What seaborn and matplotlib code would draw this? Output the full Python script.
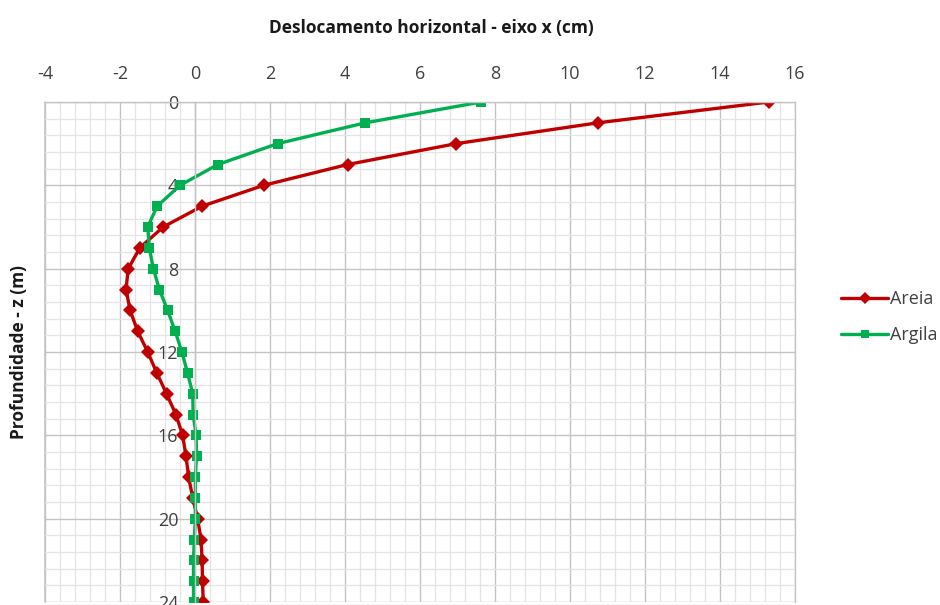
import numpy as np
import pandas as pd
import matplotlib.pyplot as plt
import seaborn as sns
from matplotlib.ticker import MultipleLocator

# depth (m), one reading per metre
profundidade = list(range(0, 25))

# horizontal displacement (cm)
areia = [15.30, 10.74, 6.96, 4.07, 1.83, 0.19, -0.85, -1.47, -1.78, -1.84,
         -1.73, -1.53, -1.26, -1.02, -0.76, -0.51, -0.33, -0.24, -0.17, -0.06,
         0.07, 0.16, 0.19, 0.20, 0.22]
argila = [7.63, 4.54, 2.20, 0.61, -0.40, -1.01, -1.26, -1.22, -1.11, -0.95,
          -0.73, -0.53, -0.35, -0.20, -0.06, -0.05, 0.03, 0.04, 0.01, 0.01,
          0.01, -0.02, -0.04, -0.04, -0.04]

series = ["Areia", "Argila"]
cores = {"Areia": "#C00000", "Argila": "#00B050"}
marcadores = {"Areia": "D", "Argila": "s"}

df = pd.concat([
    pd.DataFrame({"x": areia, "z": profundidade, "solo": "Areia"}),
    pd.DataFrame({"x": argila, "z": profundidade, "solo": "Argila"}),
])

sns.set_style("white")
plt.rcParams["font.family"] = ["Open Sans", "DejaVu Sans"]
plt.rcParams["axes.unicode_minus"] = False

fig = plt.figure(figsize=(9.4, 6.05), dpi=100)
ax = fig.add_axes([45 / 940, 3 / 605, 750 / 940, 500 / 605])

sns.lineplot(data=df, x="x", y="z", hue="solo", style="solo",
             palette=cores, markers=marcadores, dashes=False,
             sort=False, estimator=None, linewidth=2.4,
             markersize=7, markeredgewidth=0, ax=ax)

ax.set_xlim(-4, 16)
ax.set_ylim(24, 0)

ax.xaxis.set_major_locator(MultipleLocator(2))
ax.xaxis.set_minor_locator(MultipleLocator(0.4))
ax.yaxis.set_major_locator(MultipleLocator(4))
ax.yaxis.set_minor_locator(MultipleLocator(0.8))
ax.grid(which="major", color="#c4c4c4", linewidth=1.0)
ax.grid(which="minor", color="#e4e4e4", linewidth=0.9)
ax.set_axisbelow(True)

ax.xaxis.tick_top()
ax.spines["left"].set_position(("data", 0))
for s in ["left", "top", "right"]:
    ax.spines[s].set_color("#c4c4c4")
    ax.spines[s].set_linewidth(1.0)
ax.spines["bottom"].set_visible(False)
ax.axvline(-4, color="#c4c4c4", linewidth=1.2, clip_on=False, zorder=0.5)

ax.tick_params(axis="x", which="both", length=0, pad=14, labelsize=13, labelcolor="#404040")
ax.tick_params(axis="y", which="both", length=0, pad=12, labelsize=13, labelcolor="#404040")

ax.set_xlabel("")
ax.set_ylabel("Profundidade - z (m)", fontsize=12.5, fontweight="bold", color="#1a1a1a")
ax.yaxis.set_label_coords(-0.022, 0.5)

fig.text(431 / 940, 1 - 28 / 605, "Deslocamento horizontal - eixo x (cm)",
         ha="center", va="center", fontsize=12.5, fontweight="bold", color="#1a1a1a")

ax.legend(title=None, frameon=False, fontsize=13, loc="center left",
          bbox_to_anchor=(1.04, 0.57), handlelength=2.6, handletextpad=0.1,
          labelspacing=1.0, labelcolor="#404040", markerscale=0.9)

fig.savefig("out.png", dpi=100)
